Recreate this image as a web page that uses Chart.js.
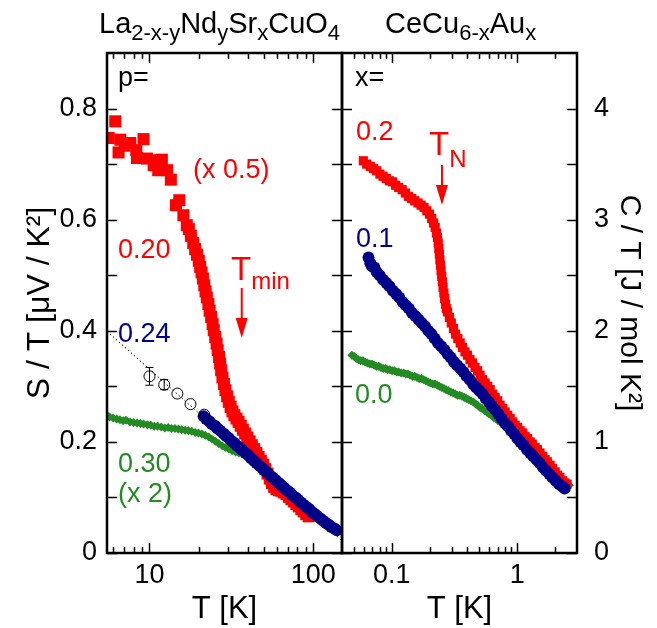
<!DOCTYPE html>
<html>
<head>
<meta charset="utf-8">
<script src="https://cdn.jsdelivr.net/npm/chart.js@4"></script>
<style>
html, body { margin: 0; padding: 0; background: #fff; }
#wrap { position: relative; width: 657px; height: 628px; }
canvas { position: absolute; left: 0; top: 0; }
</style>
</head>
<body>
<div id="wrap">
<canvas id="leftChart" width="657" height="628"></canvas>
<canvas id="rightChart" width="657" height="628"></canvas>
</div>
<script>
// ---- left panel: La2-x-yNdySrxCuO4, S/T vs T [K] ----
// p = 0.20 (x 0.5), red squares
const p020T = [5.63, 6.18, 6.47, 6.63, 7.05, 7.63, 8.30, 8.38, 9.19, 9.64, 10.6, 11.0, 11.3, 11.9, 12.8, 13.5, 14.5, 15.2, 16.1, 16.9,
	17.4, 17.9, 18.5, 19.0, 19.5, 20.0, 20.4, 20.8, 21.2, 21.6, 22.0, 22.4, 22.9, 23.3, 23.8, 24.3, 24.7, 25.2, 25.7, 26.1,
	26.6, 27.0, 27.4, 27.9, 28.5, 29.1, 29.8, 30.5, 31.3, 32.1, 33.0, 34.0, 35.0, 36.1, 37.2, 38.4, 39.6, 40.9, 42.2, 43.6,
	45.0, 46.4, 47.9, 49.4, 51.0, 52.6, 54.3, 56.0, 57.8, 59.7, 61.8, 64.0, 66.3, 68.7, 71.1, 73.6, 76.2, 78.9, 81.7, 84.6,
	87.6, 90.7, 93.9];
const p020S = [0.747, 0.777, 0.721, 0.744, 0.733, 0.738, 0.725, 0.711, 0.745, 0.710, 0.698, 0.707, 0.689, 0.708, 0.689, 0.672, 0.626, 0.635, 0.608, 0.590,
	0.583, 0.571, 0.558, 0.547, 0.537, 0.526, 0.515, 0.505, 0.494, 0.482, 0.471, 0.460, 0.448, 0.436, 0.425, 0.412, 0.401, 0.389, 0.377, 0.365,
	0.353, 0.341, 0.329, 0.316, 0.304, 0.293, 0.282, 0.272, 0.263, 0.255, 0.248, 0.242, 0.236, 0.229, 0.222, 0.215, 0.208, 0.201, 0.194, 0.187,
	0.180, 0.173, 0.166, 0.159, 0.151, 0.143, 0.134, 0.126, 0.119, 0.115, 0.113, 0.112, 0.109, 0.106, 0.101, 0.097, 0.093, 0.088, 0.084, 0.079,
	0.075, 0.070, 0.066];

// p = 0.24, navy circles
const p024T = [21.4, 22.2, 23.2, 24.0, 25.1, 26.0, 27.1, 28.3, 29.2, 30.5, 31.6, 33.0, 34.2, 35.7, 37.0, 38.6, 40.2, 41.6, 43.4, 45.0,
	46.9, 48.9, 50.6, 52.8, 54.7, 57.1, 59.2, 61.7, 64.0, 66.7, 69.2, 72.1, 74.8, 78.0, 80.9, 84.3, 87.4, 91.1, 94.5, 98.5,
	102.2, 106.5, 110.5, 115.1, 119.5, 124.4, 129.1, 134.5, 139.5];
const p024S = [0.246, 0.241, 0.237, 0.232, 0.229, 0.224, 0.220, 0.215, 0.211, 0.207, 0.202, 0.198, 0.193, 0.189, 0.185, 0.180, 0.176, 0.171, 0.166, 0.162,
	0.157, 0.153, 0.148, 0.144, 0.139, 0.135, 0.131, 0.126, 0.122, 0.117, 0.113, 0.109, 0.104, 0.100, 0.096, 0.091, 0.087, 0.083, 0.079, 0.074,
	0.070, 0.066, 0.062, 0.058, 0.054, 0.051, 0.047, 0.044, 0.041];

// p = 0.24, open circles with error bars, and the dotted line through them
const p024OpenT = [10.0, 12.3, 14.8, 17.8, 21.6];
const p024OpenS = [0.318, 0.303, 0.287, 0.268, 0.249];
const p024OpenErr = [0.016, 0.009, 0, 0, 0];
const p024FitT = [5.5, 150];
const p024FitS = [0.399, 0.022];

// p = 0.30 (x 2), green diamonds
const p030T = [5.45, 5.7, 6.0, 6.3, 6.6, 6.9, 7.2, 7.6, 8.0, 8.4, 8.8, 9.2, 9.7, 10.2, 10.7, 11.2, 11.8, 12.4, 13.0, 13.6,
	14.3, 15.0, 15.7, 16.5, 17.3, 18.1, 19.0, 19.9, 20.9, 21.9, 23.0, 24.1, 25.3, 26.5, 27.8, 29.1, 30.5, 32.0, 33.6, 35.2,
	36.9, 38.7, 40.6, 42.6, 44.7, 46.9, 49.2, 51.6, 54.1, 56.8, 59.6, 62.5, 65.6, 68.8, 72.2, 75.7, 79.4, 83.3, 87.4, 91.7,
	96.2, 101, 106, 111, 117, 123, 129, 135, 141];
const p030S = [0.249, 0.245, 0.243, 0.241, 0.240, 0.238, 0.239, 0.236, 0.235, 0.234, 0.233, 0.232, 0.231, 0.230, 0.228, 0.228, 0.227, 0.225, 0.226, 0.224,
	0.224, 0.223, 0.222, 0.221, 0.220, 0.219, 0.217, 0.216, 0.214, 0.212, 0.209, 0.205, 0.201, 0.197, 0.193, 0.190, 0.187, 0.184, 0.182, 0.180,
	0.178, 0.175, 0.172, 0.168, 0.164, 0.159, 0.154, 0.148, 0.141, 0.136, 0.131, 0.126, 0.121, 0.116, 0.111, 0.106, 0.101, 0.096, 0.090, 0.085,
	0.080, 0.075, 0.070, 0.065, 0.060, 0.055, 0.050, 0.046, 0.042];

// ---- right panel: CeCu6-xAux, C/T vs T [K] ----
// x = 0.2, red squares
const x02T = [0.0592, 0.0630, 0.0672, 0.0714, 0.0756, 0.0803, 0.0851, 0.0903, 0.0956, 0.1013, 0.1071, 0.1134, 0.1208, 0.1281, 0.1355, 0.1439, 0.1523, 0.1617, 0.1712, 0.1806,
	0.1901, 0.1995, 0.2079, 0.2153, 0.2216, 0.2268, 0.2310, 0.2342, 0.2368, 0.2394, 0.2415, 0.2441, 0.2468, 0.2499, 0.2531, 0.2562, 0.2599, 0.2636, 0.2678, 0.2720,
	0.278, 0.288, 0.298, 0.310, 0.322, 0.336, 0.351, 0.366, 0.383, 0.401, 0.420, 0.440, 0.461, 0.483, 0.506, 0.530, 0.555, 0.582, 0.609, 0.637,
	0.667, 0.698, 0.731, 0.765, 0.801, 0.839, 0.879, 0.920, 0.963, 1.008, 1.055, 1.105, 1.155, 1.21, 1.27, 1.32, 1.39, 1.45, 1.52, 1.60,
	1.67, 1.74, 1.83, 1.91, 2.01, 2.10, 2.19, 2.30, 2.40, 2.50];
const x02C = [3.53, 3.50, 3.48, 3.46, 3.44, 3.41, 3.39, 3.37, 3.35, 3.34, 3.31, 3.29, 3.27, 3.24, 3.21, 3.19, 3.17, 3.15, 3.13, 3.11,
	3.08, 3.05, 3.01, 2.97, 2.93, 2.88, 2.84, 2.79, 2.74, 2.69, 2.64, 2.59, 2.54, 2.49, 2.44, 2.39, 2.34, 2.29, 2.24, 2.20,
	2.17, 2.12, 2.07, 2.02, 1.97, 1.93, 1.89, 1.85, 1.81, 1.78, 1.74, 1.71, 1.67, 1.64, 1.60, 1.56, 1.53, 1.50, 1.47, 1.43,
	1.40, 1.37, 1.33, 1.30, 1.27, 1.24, 1.21, 1.18, 1.15, 1.13, 1.10, 1.08, 1.05, 1.03, 1.00, 0.98, 0.95, 0.93, 0.90, 0.87,
	0.84, 0.82, 0.79, 0.76, 0.73, 0.70, 0.68, 0.65, 0.63, 0.62];

// x = 0.1, navy circles
const x01T = [0.0651, 0.0672, 0.0693, 0.0725, 0.0756, 0.0798, 0.0851, 0.0903, 0.0956, 0.1019, 0.1082, 0.1145, 0.1218, 0.1292, 0.1365, 0.1449, 0.1544, 0.1638, 0.1733, 0.1838,
	0.1953, 0.2069, 0.2195, 0.2331, 0.2478, 0.2625, 0.2783, 0.2951, 0.3129, 0.3318, 0.3518, 0.3728, 0.3948, 0.4190, 0.4442, 0.4704, 0.4988, 0.5292, 0.5607, 0.5943,
	0.6300, 0.6678, 0.7077, 0.7508, 0.7959, 0.8432, 0.8936, 0.9471, 1.004, 1.061, 1.124, 1.197, 1.271, 1.344, 1.428, 1.512, 1.607, 1.701, 1.806, 1.911,
	2.027, 2.153, 2.279, 2.394];
const x01C = [2.66, 2.61, 2.58, 2.57, 2.53, 2.50, 2.46, 2.43, 2.40, 2.36, 2.33, 2.30, 2.26, 2.23, 2.20, 2.16, 2.13, 2.10, 2.07, 2.04,
	2.00, 1.97, 1.93, 1.89, 1.86, 1.83, 1.79, 1.76, 1.72, 1.69, 1.66, 1.63, 1.59, 1.56, 1.52, 1.49, 1.46, 1.43, 1.39, 1.36,
	1.32, 1.29, 1.25, 1.21, 1.17, 1.14, 1.10, 1.07, 1.03, 1.00, 0.97, 0.93, 0.90, 0.87, 0.84, 0.81, 0.77, 0.74, 0.71, 0.68,
	0.65, 0.62, 0.60, 0.58];

// x = 0.0, green diamonds
const x00T = [0.0479, 0.0499, 0.0520, 0.0541, 0.0564, 0.0588, 0.0612, 0.0638, 0.0666, 0.0693, 0.0722, 0.0753, 0.0784, 0.0818, 0.0853, 0.0888, 0.0926, 0.0965, 0.1006, 0.1048,
	0.1092, 0.1134, 0.1187, 0.1239, 0.1292, 0.1344, 0.1397, 0.1460, 0.1523, 0.1586, 0.1649, 0.1722, 0.1796, 0.1869, 0.1953, 0.2027, 0.2121, 0.2205, 0.2300, 0.2394,
	0.2499, 0.2604, 0.2709, 0.2825, 0.2951, 0.3077, 0.3203, 0.3339, 0.3476, 0.3623, 0.3780, 0.3938, 0.4106, 0.4274, 0.4463, 0.4652, 0.4841, 0.5051, 0.5261, 0.5481,
	0.5712, 0.5954, 0.6206, 0.6468, 0.6741, 0.7025, 0.7350, 0.7875, 0.840, 0.903, 0.966, 1.029, 1.103, 1.176, 1.260, 1.344, 1.439, 1.533, 1.638, 1.754,
	1.869, 1.995, 2.132, 2.279, 2.436, 2.604];
const x00C = [1.78, 1.77, 1.75, 1.74, 1.73, 1.73, 1.72, 1.71, 1.70, 1.70, 1.69, 1.68, 1.68, 1.67, 1.66, 1.66, 1.65, 1.65, 1.64, 1.64,
	1.63, 1.63, 1.62, 1.62, 1.61, 1.61, 1.60, 1.59, 1.59, 1.58, 1.57, 1.57, 1.56, 1.55, 1.54, 1.53, 1.52, 1.52, 1.51, 1.50,
	1.49, 1.48, 1.47, 1.46, 1.45, 1.44, 1.43, 1.42, 1.42, 1.41, 1.40, 1.39, 1.38, 1.37, 1.36, 1.34, 1.33, 1.31, 1.30, 1.28,
	1.27, 1.25, 1.24, 1.22, 1.21, 1.19, 1.18, 1.15, 1.12, 1.09, 1.06, 1.03, 1.00, 0.97, 0.94, 0.91, 0.88, 0.85, 0.82, 0.78,
	0.75, 0.72, 0.69, 0.66, 0.63, 0.61];

// marked temperatures (arrows)
const tMin = 36.6;
const tN = 0.251;

// ticks
const leftXMajor = [10, 100];
const leftXMinor = [6, 7, 8, 9, 20, 30, 40, 50, 60, 70, 80, 90];
const rightXMajor = [0.1, 1];
const rightXMinor = [0.05, 0.06, 0.07, 0.08, 0.09, 0.2, 0.3, 0.4, 0.5, 0.6, 0.7, 0.8, 0.9, 2];
const leftYTicks = [0, 0.1, 0.2, 0.3, 0.4, 0.5, 0.6, 0.7, 0.8];
const leftYLabels = ['0', '', '0.2', '', '0.4', '', '0.6', '', '0.8'];
const rightYTicks = [0, 0.5, 1, 1.5, 2, 2.5, 3, 3.5, 4];
const rightYLabels = ['0', '', '1', '', '2', '', '3', '', '4'];

const RED = '#ff0000';
const NAVY = '#00008b';
const GREEN = '#228b22';
const FONT = '"Liberation Sans", Arial, Helvetica, sans-serif';

function pts(xs, ys) {
	return xs.map((x, i) => ({ x: x, y: ys[i] }));
}

function drawParts(ctx, parts, x, y, color) {
	ctx.fillStyle = color;
	ctx.textAlign = 'left';
	ctx.textBaseline = 'alphabetic';
	for (const p of parts) {
		ctx.font = p.size + 'px ' + FONT;
		ctx.fillText(p.t, x, y + (p.dy || 0));
		x += ctx.measureText(p.t).width;
	}
}

// frame, inward ticks on all four sides, error bars, labels and arrows
const panelDecor = {
	id: 'panelDecor',
	afterDatasetsDraw(chart, args, opts) {
		const ctx = chart.ctx;
		const a = chart.chartArea;
		const xs = chart.scales.x;
		const ys = chart.scales.y;
		ctx.save();

		if (opts.errors) {
			const e = opts.errors;
			ctx.strokeStyle = '#000';
			ctx.lineWidth = 1;
			ctx.beginPath();
			e.t.forEach((t, i) => {
				if (!e.e[i]) return;
				const px = xs.getPixelForValue(t);
				const y1 = ys.getPixelForValue(e.v[i] + e.e[i]);
				const y2 = ys.getPixelForValue(e.v[i] - e.e[i]);
				ctx.moveTo(px, y1); ctx.lineTo(px, y2);
				ctx.moveTo(px - 4, y1); ctx.lineTo(px + 4, y1);
				ctx.moveTo(px - 4, y2); ctx.lineTo(px + 4, y2);
			});
			ctx.stroke();
		}

		ctx.strokeStyle = '#000';
		ctx.lineWidth = 2.5;
		ctx.strokeRect(a.left, a.top, a.right - a.left, a.bottom - a.top);

		ctx.lineWidth = 1.5;
		ctx.beginPath();
		xs.ticks.forEach(t => {
			const px = Math.round(xs.getPixelForValue(t.value)) + 0.5;
			const len = t.label ? 10 : 6;
			ctx.moveTo(px, a.bottom); ctx.lineTo(px, a.bottom - len);
			ctx.moveTo(px, a.top); ctx.lineTo(px, a.top + len);
		});
		ys.ticks.forEach(t => {
			const py = Math.round(ys.getPixelForValue(t.value)) + 0.5;
			ctx.moveTo(a.left, py); ctx.lineTo(a.left + 10, py);
			ctx.moveTo(a.right, py); ctx.lineTo(a.right - 10, py);
		});
		ctx.stroke();

		if (opts.arrow) {
			const ar = opts.arrow;
			const px = xs.getPixelForValue(ar.value);
			ctx.strokeStyle = ar.color;
			ctx.fillStyle = ar.color;
			ctx.lineWidth = 2;
			ctx.beginPath();
			ctx.moveTo(px, ar.y1); ctx.lineTo(px, ar.y2 - 18);
			ctx.stroke();
			ctx.beginPath();
			ctx.moveTo(px - 6, ar.y2 - 20);
			ctx.lineTo(px + 6, ar.y2 - 20);
			ctx.lineTo(px, ar.y2);
			ctx.closePath();
			ctx.fill();
		}

		drawParts(ctx, opts.title, opts.titleX, opts.titleY, '#000');
		opts.labels.forEach(l => drawParts(ctx, l.parts, l.x, l.y, l.color));
		ctx.restore();
	}
};

function xTicksFrom(major, minor) {
	return scale => {
		scale.ticks = major.concat(minor).sort((p, q) => p - q).map(v => ({ value: v }));
	};
}

function yTicksFrom(values) {
	return scale => {
		scale.ticks = values.map(v => ({ value: v }));
	};
}

const tickFont = { family: FONT, size: 27 };
const axisTitleFont = { family: FONT, size: 31 };
const yTitleFont = { family: FONT, size: 32 };

// left panel
new Chart(document.getElementById('leftChart'), {
	type: 'scatter',
	data: {
		datasets: [
			{ data: pts(p024FitT, p024FitS), showLine: true, borderColor: '#000', borderWidth: 1, borderDash: [1.5, 2.5], pointRadius: 0 },
			{ data: pts(p024OpenT, p024OpenS), pointStyle: 'circle', pointRadius: 5.5, pointBorderColor: '#000', pointBorderWidth: 1, pointBackgroundColor: 'rgba(255,255,255,0)' },
			{ data: pts(p024T, p024S), pointStyle: 'circle', pointRadius: 6, pointBackgroundColor: NAVY, pointBorderWidth: 0 },
			{ data: pts(p030T, p030S), pointStyle: 'rectRot', pointRadius: 4.5, pointBackgroundColor: GREEN, pointBorderWidth: 0 },
			{ data: pts(p020T, p020S), pointStyle: 'rect', pointRadius: 8.5, pointBackgroundColor: RED, pointBorderWidth: 0 }
		]
	},
	options: {
		responsive: false,
		animation: false,
		events: [],
		layout: { padding: { left: 0, top: 53, right: 657 - 342, bottom: 0 } },
		plugins: {
			legend: { display: false },
			tooltip: { enabled: false },
			panelDecor: {
				title: [
					{ t: 'La', size: 29 }, { t: '2-x-y', size: 22, dy: 7 }, { t: 'Nd', size: 29 }, { t: 'y', size: 22, dy: 7 },
					{ t: 'Sr', size: 29 }, { t: 'x', size: 22, dy: 7 }, { t: 'CuO', size: 29 }, { t: '4', size: 22, dy: 7 }
				],
				titleX: 99, titleY: 33,
				labels: [
					{ parts: [{ t: 'p=', size: 27 }], x: 118, y: 86, color: '#000' },
					{ parts: [{ t: '(x 0.5)', size: 27 }], x: 193, y: 178, color: RED },
					{ parts: [{ t: '0.20', size: 27 }], x: 118, y: 258, color: RED },
					{ parts: [{ t: 'T', size: 33 }, { t: 'min', size: 24, dy: 9 }], x: 231, y: 280, color: RED },
					{ parts: [{ t: '0.24', size: 27 }], x: 118, y: 342, color: NAVY },
					{ parts: [{ t: '0.30', size: 27 }], x: 118, y: 472, color: GREEN },
					{ parts: [{ t: '(x 2)', size: 27 }], x: 118, y: 502, color: GREEN }
				],
				arrow: { value: tMin, y1: 288, y2: 338, color: RED },
				errors: { t: p024OpenT, v: p024OpenS, e: p024OpenErr }
			}
		},
		scales: {
			x: {
				type: 'logarithmic',
				min: 5.5,
				max: 150,
				afterBuildTicks: xTicksFrom(leftXMajor, leftXMinor),
				afterFit: s => { s.height = 75; },
				grid: { display: false, drawTicks: false },
				border: { display: false },
				ticks: {
					autoSkip: false, maxRotation: 0, minRotation: 0, padding: 6, color: '#000', font: tickFont,
					callback: v => leftXMajor.includes(v) ? String(v) : ''
				},
				title: { display: true, text: 'T [K]', color: '#000', font: axisTitleFont, padding: { top: 0, bottom: 0 } }
			},
			y: {
				min: 0,
				max: 0.9,
				afterBuildTicks: yTicksFrom(leftYTicks),
				afterFit: s => { s.width = 107; },
				grid: { display: false, drawTicks: false },
				border: { display: false },
				ticks: {
					padding: 10, color: '#000', font: tickFont,
					callback: (v, i) => leftYLabels[i]
				},
				title: { display: true, text: 'S / T [μV / K²]', color: '#000', font: yTitleFont, padding: { top: 21, bottom: 0 } }
			}
		}
	},
	plugins: [panelDecor]
});

// right panel
new Chart(document.getElementById('rightChart'), {
	type: 'scatter',
	data: {
		datasets: [
			{ data: pts(x01T, x01C), pointStyle: 'circle', pointRadius: 6, pointBackgroundColor: NAVY, pointBorderWidth: 0 },
			{ data: pts(x02T, x02C), pointStyle: 'rect', pointRadius: 6.5, pointBackgroundColor: RED, pointBorderWidth: 0 },
			{ data: pts(x00T, x00C), pointStyle: 'rectRot', pointRadius: 4.5, pointBackgroundColor: GREEN, pointBorderWidth: 0 }
		]
	},
	options: {
		responsive: false,
		animation: false,
		events: [],
		layout: { padding: { left: 342, top: 53, right: 0, bottom: 0 } },
		plugins: {
			legend: { display: false },
			tooltip: { enabled: false },
			panelDecor: {
				title: [
					{ t: 'CeCu', size: 29 }, { t: '6-x', size: 22, dy: 7 }, { t: 'Au', size: 29 }, { t: 'x', size: 22, dy: 7 }
				],
				titleX: 385, titleY: 33,
				labels: [
					{ parts: [{ t: 'x=', size: 27 }], x: 355, y: 86, color: '#000' },
					{ parts: [{ t: '0.2', size: 27 }], x: 356, y: 140, color: RED },
					{ parts: [{ t: 'T', size: 33 }, { t: 'N', size: 24, dy: 12 }], x: 429, y: 155, color: RED },
					{ parts: [{ t: '0.1', size: 27 }], x: 356, y: 247, color: NAVY },
					{ parts: [{ t: '0.0', size: 27 }], x: 355, y: 403, color: GREEN }
				],
				arrow: { value: tN, y1: 165, y2: 205, color: RED }
			}
		},
		scales: {
			x: {
				type: 'logarithmic',
				min: 0.04,
				max: 3,
				afterBuildTicks: xTicksFrom(rightXMajor, rightXMinor),
				afterFit: s => { s.height = 75; },
				grid: { display: false, drawTicks: false },
				border: { display: false },
				ticks: {
					autoSkip: false, maxRotation: 0, minRotation: 0, padding: 6, color: '#000', font: tickFont,
					callback: v => rightXMajor.includes(v) ? String(v) : ''
				},
				title: { display: true, text: 'T [K]', color: '#000', font: axisTitleFont, padding: { top: 0, bottom: 0 } }
			},
			y: {
				position: 'right',
				min: 0,
				max: 4.5,
				afterBuildTicks: yTicksFrom(rightYTicks),
				afterFit: s => { s.width = 80; },
				grid: { display: false, drawTicks: false },
				border: { display: false },
				ticks: {
					padding: 17, color: '#000', font: tickFont,
					callback: (v, i) => rightYLabels[i]
				},
				title: { display: true, text: 'C / T [J / mol K²]', color: '#000', font: { family: FONT, size: 30 }, padding: { top: 10, bottom: 0 } }
			}
		}
	},
	plugins: [panelDecor]
});
</script>
</body>
</html>
